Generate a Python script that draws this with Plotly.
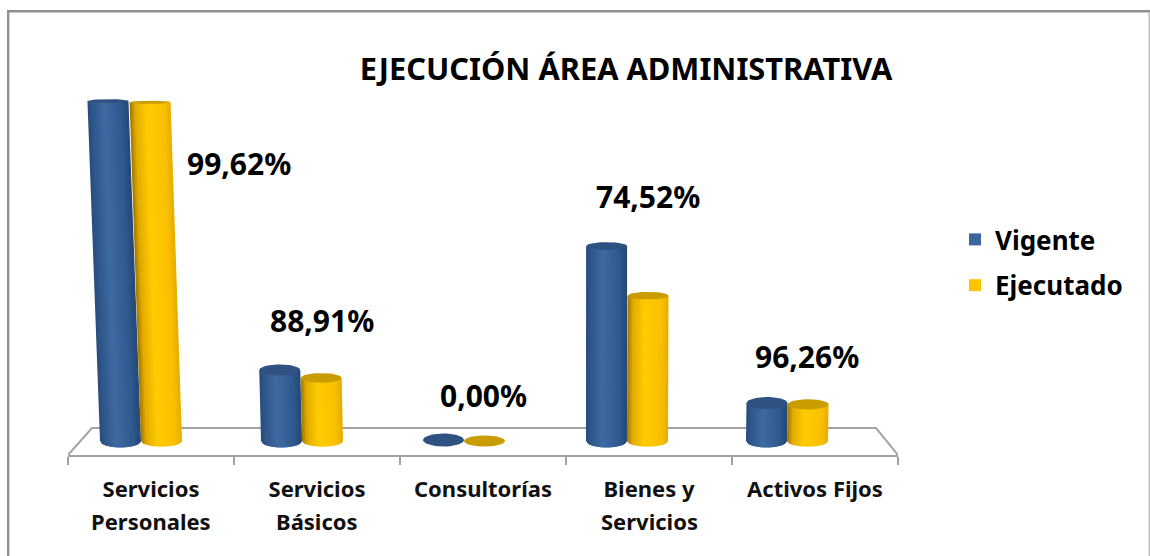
import math
import plotly.graph_objects as go

categories_line1 = ["Servicios", "Servicios", "Consultorías", "Bienes y", "Activos Fijos"]
categories_line2 = ["Personales", "Básicos", "", "Servicios", ""]
vigente = [340, 71, 1, 195, 38]
ejecutado = [338.7, 63.1, 0, 145.3, 36.6]
porcentajes = ["99,62%", "88,91%", "0,00%", "74,52%", "96,26%"]
series_names = ["Vigente", "Ejecutado"]
title_text = "EJECUCIÓN ÁREA ADMINISTRATIVA"

FONT = "Noto Sans, sans-serif"
W, H = 1150, 556
# pixel frame of the plot
L, R, T, B = 68, 898, 20, 455
BASE_PX = 441
STEP = (R - L) / 5


def ux(px):
    return (px - L) / STEP - 0.5


def uy(py):
    return BASE_PX - py


def cx_paper(px):
    return px / W


def cy_paper(py):
    return 1 - py / H


def px_plot(px):
    return (px - L) / (R - L)


def py_plot(py):
    return (B - py) / (B - T)


# cylinder geometry, in pixels
GROUP_CENTRES = [141, 302, 464, 627, 787]
CYL_W = 41
VANISH_X = 600
SLANT = 7.7e-5
N = 26

BLUE_STOPS = [(0, (40, 74, 120)), (0.12, (46, 86, 138)), (0.42, (62, 106, 162)), (0.8, (48, 90, 144)), (1, (38, 72, 118))]
GOLD_STOPS = [(0, (150, 112, 0)), (0.14, (225, 170, 0)), (0.42, (255, 204, 0)), (0.85, (250, 192, 0)), (1, (228, 172, 0))]
TOPS = {"Vigente": "#2f5283", "Ejecutado": "#c99c00"}
MID = {"Vigente": "#3a659e", "Ejecutado": "#fdc400"}


def mix(stops, t):
    for (a, ca), (b, cb) in zip(stops, stops[1:]):
        if t <= b:
            k = (t - a) / (b - a)
            return "rgb(%d,%d,%d)" % tuple(round(x + (y - x) * k) for x, y in zip(ca, cb))
    return "rgb(%d,%d,%d)" % stops[-1][1]


def half_h(h, scale):
    return scale * (6.5 - 4.6 * min(h, 340) / 340)


def geometry(i, h, side):
    cx = GROUP_CENTRES[i] + side * CYL_W / 2
    shift = (cx - VANISH_X) * h * SLANT
    return cx, shift


fig = go.Figure()

# floor
fx = [ux(68), ux(92), ux(876), ux(898)]
fy = [uy(455), uy(428), uy(428), uy(455)]
fig.add_trace(go.Scatter(x=fx, y=fy, mode="lines", line=dict(color="#a3a3a3", width=2),
                         showlegend=False, hoverinfo="skip", cliponaxis=False))

series = [("Vigente", vigente, -1, 1.0, BLUE_STOPS), ("Ejecutado", ejecutado, 1, 0.85, GOLD_STOPS)]

# the value bars
for name, vals, side, _, _ in series:
    fig.add_trace(go.Bar(
        name=name,
        x=[ux(geometry(i, v, side)[0] + geometry(i, v, side)[1] / 2) for i, v in enumerate(vals)],
        y=vals, width=16 / STEP, marker=dict(color=MID[name], line_width=0),
        legendgroup=name, hovertemplate=name + ": %{y}<extra></extra>",
    ))

# cylinder shading
for name, vals, side, scale, stops in series:
    for s in range(N):
        t0, t1 = s / N, min(1, (s + 1.6) / N)
        xs, ys = [], []
        for i, v in enumerate(vals):
            if v < 3:
                continue
            cx, shift = geometry(i, v, side)
            b0 = half_h(0, scale)
            u0, u1 = 2 * t0 - 1, 2 * t1 - 1
            arc = lambda u: -b0 * math.sqrt(max(0, 1 - u * u))
            xs += [ux(cx + u0 * CYL_W / 2), ux(cx + u1 * CYL_W / 2),
                   ux(cx + u1 * CYL_W / 2 + shift), ux(cx + u0 * CYL_W / 2 + shift),
                   ux(cx + u0 * CYL_W / 2), None]
            ys += [arc(u0), arc(u1), v, v, arc(u0), None]
        fig.add_trace(go.Scatter(x=xs, y=ys, mode="lines", fill="toself", line=dict(width=0),
                                 fillcolor=mix(stops, (t0 + t1) / 2), showlegend=False, hoverinfo="skip"))
    # top caps
    xs, ys = [], []
    for i, v in enumerate(vals):
        cx, shift = geometry(i, v, side)
        b = half_h(v, scale)
        for a in range(41):
            th = 2 * math.pi * a / 40
            xs.append(ux(cx + shift + CYL_W / 2 * math.cos(th)))
            ys.append(v + b * math.sin(th))
        xs.append(None)
        ys.append(None)
    fig.add_trace(go.Scatter(x=xs, y=ys, mode="lines", fill="toself", line=dict(width=0),
                             fillcolor=TOPS[name], showlegend=False, hoverinfo="skip"))

# percentage labels
LABEL_X = [239, 322, 483, 648, 807]
LABEL_Y = [163, 320, 395, 196, 356]
ann = [dict(x=ux(px), y=uy(py), xref="x", yref="y", text="<b>%s</b>" % t, showarrow=False,
            font=dict(family=FONT, size=30, color="#000"))
       for px, py, t in zip(LABEL_X, LABEL_Y, porcentajes)]
# second line of the category names
for i, t in enumerate(categories_line2):
    if t:
        ann.append(dict(xref="x", yref="paper", x=i, y=py_plot(521), text="<b>%s</b>" % t, showarrow=False,
                        font=dict(family=FONT, size=22, color="#111"), yanchor="middle"))

fig.update_layout(
    width=W, height=H,
    margin=dict(l=L, r=W - R, t=T, b=H - B, autoexpand=False),
    autosize=False,
    paper_bgcolor="white", plot_bgcolor="white", barmode="overlay",
    title=dict(text="<b>%s</b>" % title_text, x=cx_paper(626), xanchor="center", y=cy_paper(69), yanchor="middle",
               font=dict(family=FONT, size=30.8, color="#000")),
    xaxis=dict(range=[-0.5, 4.5], tickmode="array", tickvals=list(range(5)),
               ticktext=["<b>%s</b>" % t for t in categories_line1],
               tickfont=dict(family=FONT, size=22, color="#111"), ticks="outside", ticklen=14,
               tickcolor="rgba(0,0,0,0)", automargin=False,
               showgrid=False, zeroline=False, showline=True, linecolor="#a3a3a3", linewidth=2,
               minor=dict(tickmode="array", tickvals=[k - 0.5 for k in range(6)], ticks="outside",
                          ticklen=8, tickcolor="#a3a3a3", tickwidth=2, showgrid=False)),
    yaxis=dict(range=[uy(B), uy(T)], visible=False, showgrid=False, zeroline=False),
    legend=dict(x=cx_paper(955), xref="container", y=cy_paper(216), yref="container", xanchor="left", yanchor="top",
                font=dict(family=FONT, size=26, color="#000", weight="bold"), tracegroupgap=9,
                bgcolor="rgba(0,0,0,0)", traceorder="grouped"),
    annotations=ann,
    shapes=[
        dict(type="line", xref="paper", yref="paper",
             x0=px_plot(8.2), x1=px_plot(8.2), y0=py_plot(10), y1=py_plot(560),
             line=dict(color="#8f8f8f", width=2.4), layer="below"),
        dict(type="line", xref="paper", yref="paper",
             x0=px_plot(7), x1=px_plot(1152), y0=py_plot(11.3), y1=py_plot(11.3),
             line=dict(color="#8f8f8f", width=2.6), layer="below"),
        dict(type="line", xref="paper", yref="paper",
             x0=px_plot(1149.3), x1=px_plot(1149.3), y0=py_plot(12), y1=py_plot(560),
             line=dict(color="#bbbbbb", width=1.5), layer="below"),
    ],
)
fig.write_html("out.html", config={"displayModeBar": False}, post_script="document.body.style.margin='0';")
